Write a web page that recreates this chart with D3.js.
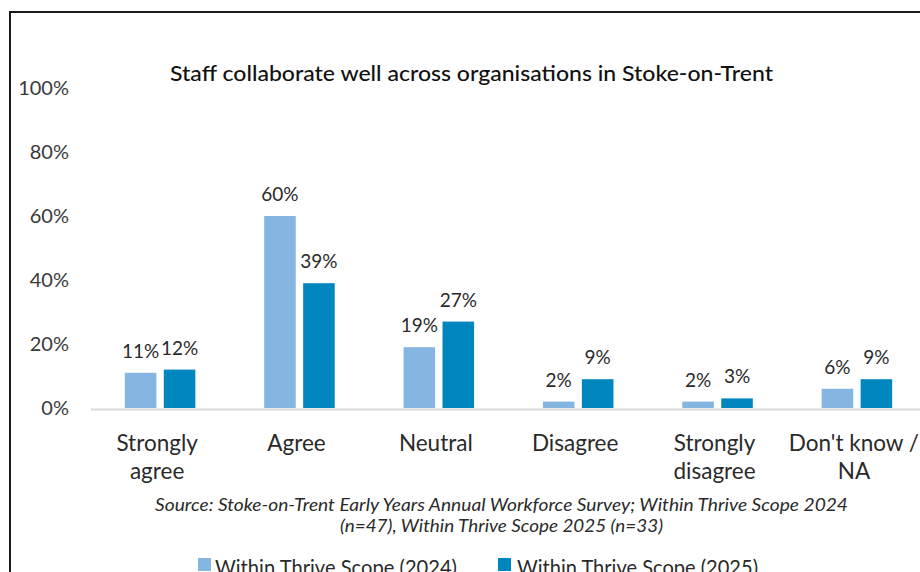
<!DOCTYPE html>
<html>
<head>
<meta charset="utf-8">
<script src="https://cdn.jsdelivr.net/npm/d3@7"></script>
<style>
  html, body { margin: 0; padding: 0; background: #fff; }
  svg { display: block; }
  text { font-family: Lato, "Open Sans", sans-serif; fill: #333; }
</style>
</head>
<body>
<svg id="chart" width="920" height="572"></svg>
<script>
// Survey responses, share of respondents
const categories = ["Strongly agree", "Agree", "Neutral", "Disagree", "Strongly disagree", "Don't know / NA"];
const categoryLines = [["Strongly", "agree"], ["Agree"], ["Neutral"], ["Disagree"], ["Strongly", "disagree"], ["Don't know /", "NA"]];
const seriesNames = ["Within Thrive Scope (2024)", "Within Thrive Scope (2025)"];
const values2024 = [0.11, 0.60, 0.19, 0.02, 0.02, 0.06];
const values2025 = [0.12, 0.39, 0.27, 0.09, 0.03, 0.09];
const yTicks = [0, 0.2, 0.4, 0.6, 0.8, 1.0];
const titleText = "Staff collaborate well across organisations in Stoke-on-Trent";
const sourceLines = [
  "Source: Stoke-on-Trent Early Years Annual Workforce Survey; Within Thrive Scope 2024",
  "(n=47), Within Thrive Scope 2025 (n=33)"
];
const colors = ["#85b6e1", "#0086bf"];

const svg = d3.select("#chart");

// Frame around the chart
svg.append("rect")
  .attr("x", 10).attr("y", 12)
  .attr("width", 940).attr("height", 600)
  .attr("fill", "none").attr("stroke", "#1a1a1a").attr("stroke-width", 2);

// Squeeze or stretch a text element to a given width
function fitText(sel, w) {
  sel.attr("textLength", w).attr("lengthAdjust", "spacingAndGlyphs");
}

const x = d3.scaleBand()
  .domain(categories)
  .range([90.4, 926.6])
  .paddingInner(0.494)
  .paddingOuter(0.247);

const xs = d3.scaleBand()
  .domain(seriesNames)
  .range([0, x.bandwidth()])
  .paddingInner(0.19);

const y = d3.scaleLinear().domain([0, 1]).range([408, 88]);

// Title
svg.append("text")
  .attr("x", 471.5).attr("y", 81)
  .attr("text-anchor", "middle")
  .style("font-size", "22px")
  .style("font-weight", 500)
  .style("fill", "#111")
  .text(titleText)
  .call(fitText, 603);

// Y axis labels
const yAxis = d3.axisLeft(y)
  .tickValues(yTicks)
  .tickFormat(d3.format(".0%"))
  .tickSize(0)
  .tickPadding(21);

svg.append("g")
  .attr("transform", "translate(90,0)")
  .call(yAxis)
  .call(g => g.select(".domain").remove())
  .selectAll("text")
  .style("font-family", "Lato, sans-serif")
  .style("font-size", "20px")
  .style("fill", "#3a3a3a");

// Bars
const rows = categories.map((c, i) => ({ cat: c, vals: [values2024[i], values2025[i]] }));

const groups = svg.append("g").selectAll("g")
  .data(rows)
  .join("g")
  .attr("transform", d => `translate(${x(d.cat)},0)`);

groups.selectAll("rect")
  .data(d => d.vals.map((v, j) => ({ s: seriesNames[j], v, j })))
  .join("rect")
  .attr("x", d => xs(d.s))
  .attr("y", d => y(d.v))
  .attr("width", xs.bandwidth())
  .attr("height", d => y(0) - y(d.v))
  .attr("fill", d => colors[d.j]);

// Value labels
groups.selectAll("text.val")
  .data(d => d.vals.map((v, j) => ({ s: seriesNames[j], v, j })))
  .join("text")
  .attr("class", "val")
  .attr("x", d => xs(d.s) + xs.bandwidth() / 2)
  .attr("y", d => y(d.v) - 15)
  .attr("text-anchor", "middle")
  .style("font-size", "19px")
  .style("fill", "#2a2a2a")
  .text(d => d3.format(".0%")(d.v));

// Category axis with wrapped labels
const xAxis = d3.axisBottom(x).tickSize(0).tickFormat("");
const xg = svg.append("g")
  .attr("transform", "translate(0,409)")
  .call(xAxis);
xg.select(".domain").attr("stroke", "#d9d9d9").attr("stroke-width", 2);

xg.selectAll(".tick").each(function(d) {
  const i = categories.indexOf(d);
  const t = d3.select(this).select("text")
    .attr("y", 0).attr("dy", null)
    .attr("x", -3)
    .style("font-family", "Lato, sans-serif")
    .style("font-size", "22.5px")
    .style("fill", "#2a2a2a");
  categoryLines[i].forEach((line, k) => {
    t.append("tspan").attr("x", -3).attr("y", 42 + k * 28).text(line);
  });
});

// Source note
sourceLines.forEach((line, k) => {
  const widths = [693, 323];
  svg.append("text")
    .attr("x", 501.5).attr("y", 511 + k * 21)
    .attr("text-anchor", "middle")
    .style("font-size", "18px")
    .style("font-style", "italic")
    .style("fill", "#2a2a2a")
    .text(line)
    .call(fitText, widths[k]);
});

// Legend
const legendItems = [
  { name: seriesNames[0], sx: 198, tx: 215, w: 242 },
  { name: seriesNames[1], sx: 498, tx: 517, w: 241 }
];
const lg = svg.append("g");
legendItems.forEach((it, j) => {
  lg.append("rect")
    .attr("x", it.sx).attr("y", 558)
    .attr("width", 13).attr("height", 13)
    .attr("fill", colors[j]);
  lg.append("text")
    .attr("x", it.tx).attr("y", 575)
    .style("font-size", "21px")
    .style("fill", "#2a2a2a")
    .text(it.name)
    .call(fitText, it.w);
});
</script>
</body>
</html>
